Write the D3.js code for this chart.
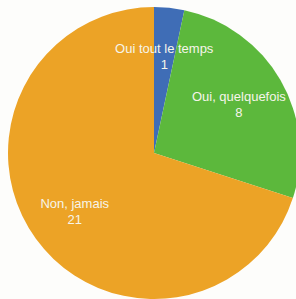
<!DOCTYPE html>
<html>
<head>
<meta charset="utf-8">
<script src="https://cdn.jsdelivr.net/npm/d3@7"></script>
<style>
  body { margin: 0; background: #fdfdfb; }
  svg { display: block; }
</style>
</head>
<body>
<div id="chart"></div>
<script>
// slices, clockwise from 12 o'clock
let labels = ["Oui tout le temps", "Oui, quelquefois", "Non, jamais"];
let values = [1, 8, 21];
let colors = ["#3f6db6", "#5cb83c", "#eca326"];

let width = 296, height = 299;
let cx = 154, cy = 153, radius = 146;

let svg = d3.select("#chart")
    .append("svg")
    .attr("width", width)
    .attr("height", height);

let g = svg.append("g")
    .attr("transform", "translate(" + cx + "," + cy + ")");

let pie = d3.pie()
    .sort(null)
    .value(function (d) { return d; });

let arcs = pie(values);

let arc = d3.arc()
    .innerRadius(0)
    .outerRadius(radius);

// labels sit at about two thirds of the radius
let labelArc = d3.arc()
    .innerRadius(98)
    .outerRadius(98);

g.selectAll("path")
    .data(arcs)
    .enter()
    .append("path")
    .attr("d", arc)
    .attr("fill", function (d, i) { return colors[i]; });

let txt = g.selectAll("text.lbl")
    .data(arcs)
    .enter()
    .append("text")
    .attr("class", "lbl")
    .attr("text-anchor", "middle")
    .attr("transform", function (d) {
        return "translate(" + labelArc.centroid(d) + ")";
    })
    .style("font-family", "'Liberation Sans', Arial, sans-serif")
    .style("font-size", "13px")
    .style("fill", "#f6f5ea");

txt.append("tspan")
    .attr("x", 0)
    .attr("y", -3)
    .text(function (d, i) { return labels[i]; });

txt.append("tspan")
    .attr("x", 0)
    .attr("y", 13)
    .text(function (d) { return d.data; });
</script>
</body>
</html>
